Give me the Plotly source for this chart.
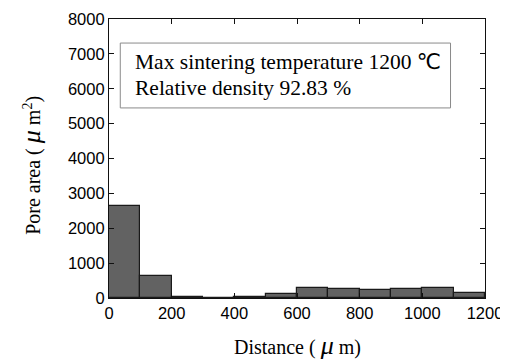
import plotly.graph_objects as go

bin_starts = [0, 100, 200, 300, 400, 500, 600, 700, 800, 900, 1000, 1100]
bin_width = 100
pore_area = [2640, 630, 30, 10, 35, 120, 285, 257, 229, 262, 285, 143]

x_ticks = [0, 200, 400, 600, 800, 1000, 1200]
y_ticks = [0, 1000, 2000, 3000, 4000, 5000, 6000, 7000, 8000]

mu = "<span style='font-size:26px'><i>μ</i></span>"
note_line1 = "Max sintering temperature 1200 <span style=\"font-family:'DejaVu Sans'\">℃</span>"
note_line2 = "Relative density 92.83 %"
x_title = "Distance ( " + mu + " m)"
y_title = "Pore area ( " + mu + " m<sup>2</sup>)"

serif = "Liberation Serif, Times New Roman, serif"
sans = "Liberation Sans, Arial, sans-serif"

fig = go.Figure()
fig.add_trace(go.Bar(
    x=bin_starts, y=pore_area, width=[bin_width] * len(bin_starts), offset=0,
    marker=dict(color="#626262", line=dict(color="#1a1a1a", width=1.2)),
))

axis_common = dict(
    showline=True, linecolor="#111", linewidth=1.2, mirror="ticks",
    ticks="inside", ticklen=5, tickwidth=1, tickcolor="#111",
    showgrid=False, zeroline=False, automargin=False,
    tickfont=dict(family=sans, size=16.5, color="#000"),
)
fig.update_xaxes(range=[0, 1200], tickvals=x_ticks, **axis_common)
fig.update_yaxes(range=[0, 8000], tickvals=y_ticks, **axis_common)

# annotation box
fig.add_shape(type="rect", xref="x", yref="y", x0=36, x1=1090, y0=5450, y1=7310,
              line=dict(color="#8a8a8a", width=1), fillcolor="white")
fig.add_annotation(xref="x", yref="y", x=76, y=6770, text=note_line1, showarrow=False,
                   xanchor="left", yanchor="middle", font=dict(family=serif, size=21.5, color="#000"))
fig.add_annotation(xref="x", yref="y", x=76, y=6025, text=note_line2, showarrow=False,
                   xanchor="left", yanchor="middle", font=dict(family=serif, size=21.5, color="#000"))

# axis titles
fig.add_annotation(xref="paper", yref="paper", x=0.5, y=-0.172, yanchor="middle", text=x_title,
                   showarrow=False, font=dict(family=serif, size=20, color="#000"))
fig.add_annotation(xref="paper", yref="paper", x=-0.205, y=0.477, text=y_title, textangle=-90,
                   showarrow=False, xanchor="center", yanchor="middle",
                   font=dict(family=serif, size=20, color="#000"))

# page body has an 8px default margin, so the figure is sized to fit the window
fig.update_layout(
    width=500, height=353,
    margin=dict(l=101, r=23, t=11, b=63),
    plot_bgcolor="white", paper_bgcolor="white",
    showlegend=False, bargap=0,
)
fig.write_html("out.html")
